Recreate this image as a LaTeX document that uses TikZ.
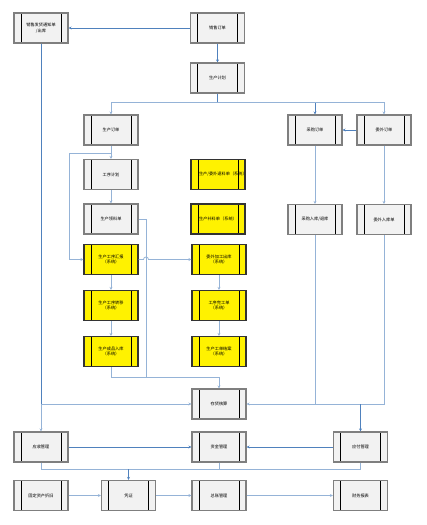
\documentclass[tikz,border=0pt]{standalone}
\usepackage{fontspec}
\newfontfamily\cjk{Noto Sans CJK SC}
\usetikzlibrary{arrows.meta}
\definecolor{lblue}{HTML}{95B3D7}
\definecolor{dblue}{HTML}{4F81BD}
\definecolor{boxgray}{HTML}{F2F2F2}
\definecolor{bordergray}{HTML}{7F7F7F}
\tikzset{
  procbox/.style={draw=bordergray, line width=1.1pt, fill=boxgray,
    minimum width=54pt, minimum height=30pt, inner sep=0pt,
    text width=38pt, align=center, font=\cjk\fontsize{4.2}{5.2}\selectfont,
    path picture={
      \draw[black,line width=0.8pt]
        ([xshift=7pt]path picture bounding box.north west) -- ([xshift=7pt]path picture bounding box.south west)
        ([xshift=-7pt]path picture bounding box.north east) -- ([xshift=-7pt]path picture bounding box.south east);
    }},
  sysbox/.style={procbox, fill=yellow, draw=black!80},
  conn/.style={draw=lblue, line width=0.8pt},
  dconn/.style={draw=dblue, line width=0.8pt},
  arr/.style={-{Stealth[length=3pt,width=3pt]}}
}
\begin{document}
\begin{tikzpicture}[x=1pt,y=-1pt]
\useasboundingbox[fill=white] (0,0) rectangle (427,525);

\node[procbox] (ck) at (41,28) {销售发货通知单\\/出库};
\node[procbox] (xsdd) at (217.5,28) {销售订单};
\node[procbox] (jh) at (217.5,78) {生产计划};

\node[procbox] (scdd) at (111,130) {生产订单};
\node[procbox] (cgdd) at (315,130) {采购订单};
\node[procbox] (wwdd) at (384,130) {委外订单};

\node[procbox] (b2) at (111,174.5) {工序计划};
\node[procbox] (b3) at (111,219) {生产领料单};
\node[sysbox] (y0a) at (218,174.5) {生产/委外退料单（系统）};
\node[sysbox] (y0b) at (218,219) {生产补料单（系统）};
\node[procbox] (cgrk) at (315,219.5) {采购入库/退库};
\node[procbox] (wwrk) at (384,219.5) {委外入库单};

\node[sysbox] (yl1) at (111,259.5) {生产工序汇报\\（系统）};
\node[sysbox] (yl2) at (111,305.5) {生产工序转移\\（系统）};
\node[sysbox] (yl3) at (111,351.5) {生产成品入库\\（系统）};
\node[sysbox] (yr1) at (219,259.5) {委外加工出库\\（系统）};
\node[sysbox] (yr2) at (219,305.5) {工序完工单\\（系统）};
\node[sysbox] (yr3) at (219,351.5) {生产工单结案\\（系统）};

\node[procbox] (ch) at (219,404) {存货核算};
\node[procbox] (ys) at (41,447) {应收管理};
\node[procbox] (zj) at (219,447) {资金管理};
\node[procbox] (yf) at (360.5,447) {应付管理};

\node[procbox] (gd) at (41,495.5) {固定资产折旧};
\node[procbox] (pz) at (128.5,495.5) {凭证};
\node[procbox] (zz) at (219,495.5) {总账管理};
\node[procbox] (bb) at (360.5,495.5) {财务报表};

\coordinate (split) at (217.5,102);
\coordinate (fb1) at (111,153);
\coordinate (fb2) at (69,153);
\coordinate (mergeA) at (146,377);
\coordinate (mergeB) at (219,377);
\coordinate (leftT) at (41,404);
\coordinate (rightT) at (315,404);
\coordinate (rightT2) at (384,404);
\coordinate (yfT) at (360.5,404);
\coordinate (botM) at (128.5,469);

% top
\draw[dconn,arr] (xsdd.west) -- (ck.east);
\draw[dconn,arr] (xsdd.south) -- (jh.north);
\draw[dconn] (jh.south) -- (split);
\draw[conn,arr] (split) -| (scdd.north);
\draw[dconn,arr] (split) -| (cgdd.north);
\draw[conn,arr] (split) -| (wwdd.north);
\draw[dconn,arr] (wwdd.west) -- (cgdd.east);
\draw[conn,arr] (cgdd.south) -- (cgrk.north);
\draw[conn,arr] (wwdd.south) -- (wwrk.north);

% production column
\draw[conn,arr] (scdd.south) -- (b2.north);
\draw[conn,arr] (fb1) -- (fb2) |- (yl1.west);
\draw[conn,arr] (b2.south) -- (b3.north);
\draw[conn] (b3.east) -| (mergeA) -- (mergeB);
\draw[conn,arr] (mergeB) -- (ch.north);
\draw[conn,arr] (yl1.south) -- (yl2.north);
\draw[conn,arr] (yl2.south) -- (yl3.north);
\draw[conn] (yl3.south) |- (mergeA);
\draw[conn,arr] (yl1.east) -- (143.5,259.5) arc[start angle=180,end angle=0,radius=2.5pt] -- (yr1.west);
\draw[conn,arr] (yr1.south) -- (yr2.north);
\draw[conn,arr] (yr2.south) -- (yr3.north);

% left trunk
\draw[dconn] (ck.south) -- (leftT);
\draw[conn,arr] (leftT) -- (ch.west);
\draw[conn,arr] (leftT) -- (ys.north);

% right trunk
\draw[conn] (cgrk.south) -- (rightT);
\draw[conn] (wwrk.south) -- (rightT2) -- (rightT);
\draw[conn,arr] (rightT) -- (ch.east);
\draw[dconn,arr] (yfT) -- (yf.north);

% middle row
\draw[dconn,arr] (ys.east) -- (zj.west);
\draw[dconn,arr] (yf.west) -- (zj.east);
\draw[conn] (ys.south) |- (botM);
\draw[conn] (zj.south) |- (botM);
\draw[conn] (yf.south) |- (botM);
\draw[dconn,arr] (botM) -- (pz.north);

% bottom row
\draw[conn,arr] (gd.east) -- (pz.west);
\draw[conn,arr] (pz.east) -- (zz.west);
\draw[conn,arr] (zz.east) -- (bb.west);
\end{tikzpicture}
\end{document}
